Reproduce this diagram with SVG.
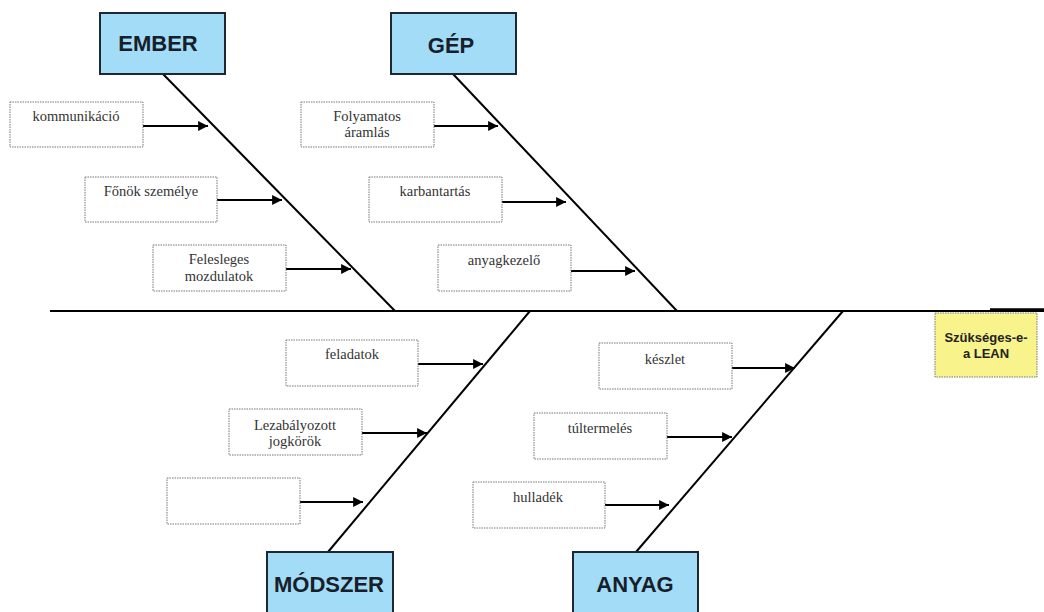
<svg xmlns="http://www.w3.org/2000/svg" width="1044" height="612" viewBox="0 0 1044 612">
<style>
.cat{fill:#a3dcf6;stroke:#1c2833;stroke-width:2}
.cattxt{font-family:"Liberation Sans",Arial,sans-serif;font-weight:bold;font-size:22px;fill:#17202a;text-anchor:middle}
.cause{fill:#fff;stroke:#777;stroke-width:1;stroke-dasharray:1.5 1}
.ctxt{font-family:"Liberation Serif","DejaVu Serif",serif;font-size:14.5px;fill:#333;text-anchor:middle}
.bone{stroke:#000;stroke-width:2;fill:none}
.arr{stroke:#000;stroke-width:2.2;fill:none;marker-end:url(#ah)}
.eff{fill:#f8f38a;stroke:#777;stroke-width:1;stroke-dasharray:1.5 1}
.efftxt{font-family:"Liberation Sans",Arial,sans-serif;font-weight:bold;font-size:13px;fill:#222;text-anchor:middle}
</style>
<defs>
<marker id="ah" viewBox="0 0 10 10" refX="10" refY="5" markerWidth="5.5" markerHeight="4.5" orient="auto" markerUnits="strokeWidth">
<path d="M0,0 L10,5 L0,10 z" fill="#000"/>
</marker>
</defs>
<rect width="1044" height="612" fill="#fff"/>
<g id="connectors">
<line class="bone" x1="50" y1="311" x2="1044" y2="311"/>
<line x1="990" y1="310" x2="1044" y2="310" stroke="#000" stroke-width="3.5"/>
<line class="bone" x1="163" y1="74" x2="395" y2="311"/>
<line class="bone" x1="453" y1="74" x2="677" y2="311"/>
<line class="bone" x1="328" y1="552" x2="530" y2="311"/>
<line class="bone" x1="636" y1="552" x2="843" y2="311"/>
<line class="arr" x1="143" y1="126" x2="208" y2="126"/>
<line class="arr" x1="217" y1="200" x2="282" y2="200"/>
<line class="arr" x1="286" y1="269" x2="351" y2="269"/>
<line class="arr" x1="434" y1="126" x2="498" y2="126"/>
<line class="arr" x1="502" y1="202" x2="566" y2="202"/>
<line class="arr" x1="571" y1="271" x2="635" y2="271"/>
<line class="arr" x1="418" y1="364" x2="483" y2="364"/>
<line class="arr" x1="362" y1="433" x2="427" y2="433"/>
<line class="arr" x1="300" y1="502" x2="363" y2="502"/>
<line class="arr" x1="732" y1="368" x2="795" y2="368"/>
<line class="arr" x1="667" y1="437" x2="732" y2="437"/>
<line class="arr" x1="605" y1="505" x2="669" y2="505"/>
</g>
<g id="ember"><rect class="cat" x="100" y="13" width="125" height="61"/><text class="cattxt" x="158" y="51">EMBER</text></g>
<g id="gep"><rect class="cat" x="391" y="13" width="125" height="61"/><text class="cattxt" x="451" y="53">GÉP</text></g>
<g id="modszer"><rect class="cat" x="267" y="552" width="126" height="66"/><text class="cattxt" x="329" y="592">MÓDSZER</text></g>
<g id="anyag"><rect class="cat" x="573" y="552" width="125" height="66"/><text class="cattxt" x="635" y="592">ANYAG</text></g>
<g id="kommunikacio"><rect class="cause" x="10" y="102" width="133" height="45"/><text class="ctxt" x="76" y="121">kommunikáció</text></g>
<g id="fonok"><rect class="cause" x="85" y="177" width="132" height="45"/><text class="ctxt" x="151" y="196">Főnök személye</text></g>
<g id="felesleges"><rect class="cause" x="153" y="245" width="133" height="46"/><text class="ctxt" x="219" y="264">Felesleges</text><text class="ctxt" x="219" y="281">mozdulatok</text></g>
<g id="folyamatos"><rect class="cause" x="301" y="102" width="133" height="45"/><text class="ctxt" x="367" y="121">Folyamatos</text><text class="ctxt" x="367" y="137">áramlás</text></g>
<g id="karbantartas"><rect class="cause" x="369" y="177" width="133" height="45"/><text class="ctxt" x="435" y="196">karbantartás</text></g>
<g id="anyagkezelo"><rect class="cause" x="438" y="245" width="133" height="46"/><text class="ctxt" x="504" y="265">anyagkezelő</text></g>
<g id="feladatok"><rect class="cause" x="286" y="340" width="132" height="46"/><text class="ctxt" x="352" y="359">feladatok</text></g>
<g id="lezabalyozott"><rect class="cause" x="229" y="409" width="133" height="46"/><text class="ctxt" x="295" y="430">Lezabályozott</text><text class="ctxt" x="295" y="446">jogkörök</text></g>
<g id="ures"><rect class="cause" x="167" y="478" width="133" height="46"/></g>
<g id="keszlet"><rect class="cause" x="599" y="343" width="133" height="46"/><text class="ctxt" x="665" y="364">készlet</text></g>
<g id="tultermeles"><rect class="cause" x="534" y="413" width="133" height="46"/><text class="ctxt" x="600" y="433">túltermelés</text></g>
<g id="hulladek"><rect class="cause" x="473" y="482" width="132" height="46"/><text class="ctxt" x="538" y="502">hulladék</text></g>
<g id="lean"><rect class="eff" x="935" y="313" width="102" height="64"/><text class="efftxt" x="986" y="342">Szükséges-e-</text><text class="efftxt" x="986" y="358">a LEAN</text></g>
</svg>
